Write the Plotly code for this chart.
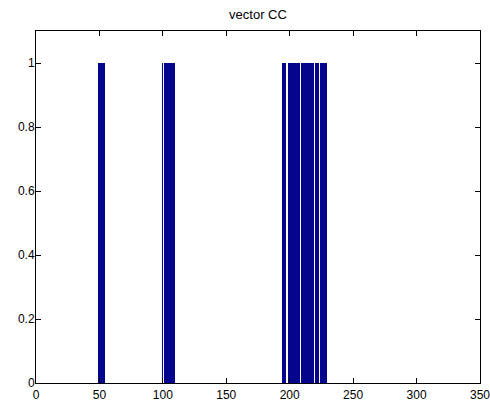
import plotly.graph_objects as go

# Positions (1-based) of the nonzero entries of vector CC and their values
cc_index = [49, 50, 51, 52, 53, 54,
            100, 101, 102, 103, 104, 105, 106, 107, 108, 109,
            194, 195, 196, 197,
            199, 200, 201, 202, 203, 204, 205, 206, 207, 208, 209, 210,
            211, 212, 213, 214, 215, 216, 217, 218, 219, 220, 221, 222,
            223, 224, 225, 226, 227, 228, 229]
cc_value = [1, 1, 1, 1, 1, 1,
            1, 1, 1, 1, 1, 1, 1, 1, 1, 1,
            1, 1, 1, 1,
            1, 1, 1, 1, 1, 1, 1, 1, 1, 1, 1, 1,
            1, 1, 1, 1, 1, 1, 1, 1, 1, 1, 1, 1,
            1, 1, 1, 1, 1, 1, 1]

x_ticks = [0, 50, 100, 150, 200, 250, 300, 350]
y_ticks = [0, 0.2, 0.4, 0.6, 0.8, 1]
y_tick_text = ["0", "0.2", "0.4", "0.6", "0.8", "1"]

font = "Liberation Sans, Arial, sans-serif"
bar_blue = "#06068E"

fig = go.Figure()
fig.add_trace(go.Bar(
    x=cc_index,
    y=cc_value,
    width=0.9,
    # a hairline outline makes plotly snap bar edges to whole pixels
    marker=dict(color=bar_blue, line=dict(width=0.02, color=bar_blue)),
    showlegend=False,
))

fig.update_layout(
    width=490,
    height=402,
    margin=dict(l=36, r=10, t=31, b=19, autoexpand=False),
    paper_bgcolor="white",
    plot_bgcolor="white",
    bargap=0,
    font=dict(family=font, size=12, color="black"),
    title=dict(text="vector CC", x=(36 + 480) / 2 / 490, xanchor="center",
               y=1 - 14 / 402, yanchor="middle",
               font=dict(family=font, size=13, color="black")),
)

axis_style = dict(
    ticks="inside",
    ticklen=5,
    tickcolor="black",
    showline=True,
    linecolor="black",
    linewidth=1,
    mirror="ticks",
    showgrid=False,
    zeroline=False,
    automargin=False,
    ticklabeloverflow="allow",
    tickfont=dict(family=font, size=12, color="black"),
)

fig.update_xaxes(range=[0, 350], tickvals=x_ticks, ticklabelstandoff=1,
                 **axis_style)
fig.update_yaxes(range=[0, 1.1], tickvals=y_ticks, ticktext=y_tick_text,
                 ticklabelstandoff=-2, **axis_style)

fig.write_html("out.html")
